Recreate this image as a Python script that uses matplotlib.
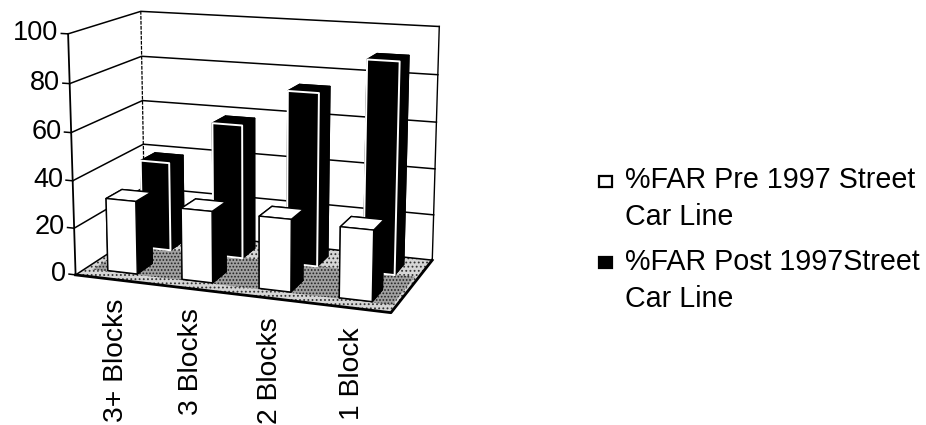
import numpy as np
import matplotlib
matplotlib.use("Agg")
import matplotlib.pyplot as plt
from matplotlib.patches import Rectangle
from mpl_toolkits.mplot3d import proj3d
from mpl_toolkits.mplot3d.art3d import Poly3DCollection

plt.rcParams['font.family'] = ['Liberation Sans', 'DejaVu Sans']
plt.rcParams['hatch.linewidth'] = 0.8

TICK_SIZE = 19.5
CAT_SIZE = 20.3
LEGEND_SIZE = 20.6
W, H = 926, 425

categories = ["3+ Blocks", "3 Blocks", "2 Blocks", "1 Block"]
pre_1997 = [31, 30, 30, 29]
post_1997 = [39, 58, 74, 89]
z_ticks = [0, 20, 40, 60, 80, 100]
legend_lines = ["%FAR Pre 1997 Street", "Car Line", "%FAR Post 1997Street", "Car Line"]

# camera values fitted against the wall corners of the picture
AZIM, ELEV, FOCAL = -70.14, 13.42, 0.615
BOX = (1.927, 1, 1.443)
SCALE, TX, TY = 2311.57, 256.82, -151.11

BAR_W = 0.40
BAR_D = 0.44

fig = plt.figure(figsize=(W/100, H/100), dpi=100)
ax = fig.add_axes([0, 0, 1, 1], projection='3d', computed_zorder=False)
ax.set_axis_off()
ax.patch.set_alpha(0)
n = len(categories)
ax.set_xlim(0, n)
ax.set_ylim(0, 2)
ax.set_zlim(0, 100)
ax.view_init(elev=ELEV, azim=AZIM)
ax.set_proj_type('persp', focal_length=FOCAL)
ax.set_box_aspect(BOX)

# axes position so that the projected plane lands where the fit put it
x0, x1 = ax.viewLim.intervalx
y0, y1 = ax.viewLim.intervaly
ax.set_position([(TX + SCALE*x0)/W, (H + TY + SCALE*y0)/H, SCALE*(x1-x0)/W, SCALE*(y1-y0)/H])


def label(x, y, z, s, **kw):
    # Text3D throws away rotation, so anchor a 2d annotation at the projected point
    px, py, _ = proj3d.proj_transform(x, y, z, ax.get_proj())
    ax.annotate(s, (px, py), xycoords='data', annotation_clip=False, zorder=9, **kw)


# floor, the scan is darker in the band between the two rows
floor = Poly3DCollection([[(0, 0, 0), (n, 0, 0), (n, 2, 0), (0, 2, 0)]],
                         facecolor='#d6d6d6', edgecolor='#333333', linewidth=0, hatch='....', zorder=1)
ax.add_collection3d(floor)
band = Poly3DCollection([[(0.1, 0.25, 0), (n-0.05, 0.25, 0), (n-0.05, 1.3, 0), (0.1, 1.3, 0)]],
                        facecolor='#a0a0a0', edgecolor='#222222', linewidth=0, hatch='.....', zorder=1.5)
ax.add_collection3d(band)

# walls and grid
for z in z_ticks:
    ax.plot([0, 0, n], [0, 2, 2], [z, z, z], color='black', lw=1.1, zorder=2)
    ax.plot([-0.09, 0], [0, 0], [z, z], color='black', lw=1.1, zorder=2)
    label(-0.13, 0, z, str(z), ha='right', va='center', fontsize=TICK_SIZE)
ax.plot([0, 0], [0, 0], [0, 100], color='black', lw=1.3, zorder=2)
ax.plot([0, 0], [2, 2], [0, 100], color='black', lw=0.9, ls=(0, (3, 1)), zorder=2)
ax.plot([n, n], [2, 2], [0, 100], color='black', lw=1, zorder=2)
ax.plot([0, n, n], [0, 0, 2], [0, 0, 0], color='black', lw=2, zorder=8)

# post bars sit in the back row, pre bars in front
faces_post = ['black']*6
faces_pre = ['white', 'white', 'white', 'white', 'white', 'black']
for i in range(n):
    left = i + 0.5 - BAR_W/2
    ax.bar3d(left, 1.28, 0, BAR_W, BAR_D, post_1997[i], color=faces_post, shade=False,
             edgecolor='black', linewidth=1, zorder=3)
    ax.plot([left, left, left+BAR_W, left+BAR_W, left], [1.28]*5,
            [0, post_1997[i], post_1997[i], 0, 0], color='white', lw=1.4, zorder=4)
for i in range(n):
    left = i + 0.5 - BAR_W/2
    ax.bar3d(left, 0.28, 0, BAR_W, BAR_D, pre_1997[i], color=faces_pre, shade=False,
             edgecolor='black', linewidth=1, zorder=5)

for i, name in enumerate(categories):
    label(i + 0.54, 0, -8, name, rotation=90, ha='center', va='top', fontsize=CAT_SIZE)

# legend in picture pixels, first line of each entry carries the swatch
leg = fig.add_axes([0, 0, 1, 1])
leg.set_xlim(0, W)
leg.set_ylim(H, 0)
leg.set_axis_off()
for text, y in zip(legend_lines, [180, 217, 262, 299]):
    leg.text(625, y, text, va='center', ha='left', fontsize=LEGEND_SIZE)
leg.add_patch(Rectangle((599, 176), 13, 11, facecolor='white', edgecolor='black', lw=1.6))
leg.add_patch(Rectangle((599, 257), 13, 11, facecolor='black', edgecolor='black', lw=1.6))

fig.savefig('out.png', dpi=100)
